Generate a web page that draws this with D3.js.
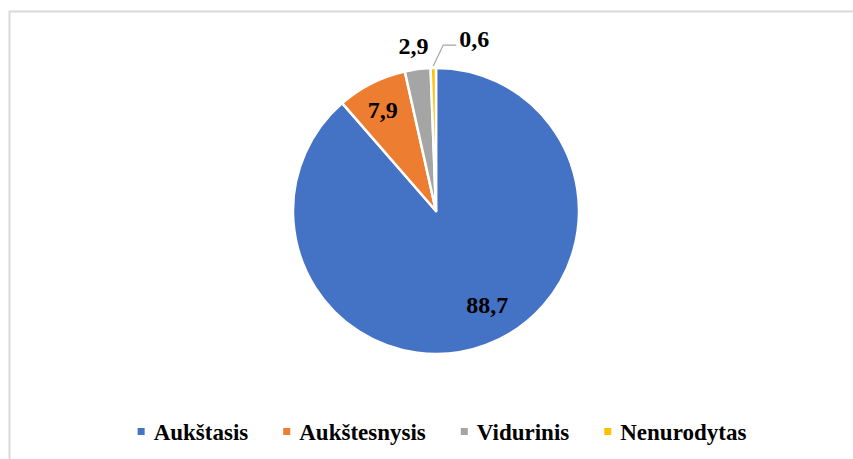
<!DOCTYPE html>
<html>
<head>
<meta charset="utf-8">
<script src="https://cdn.jsdelivr.net/npm/d3@7"></script>
<style>
  body { margin: 0; background: #fff; }
  text { font-family: "Liberation Serif", "Times New Roman", serif; font-weight: bold; fill: #000; }
</style>
</head>
<body>
<svg id="chart" width="853" height="459"></svg>
<script>
// data
const categories = ["Aukštasis", "Aukštesnysis", "Vidurinis", "Nenurodytas"];
const values = [88.7, 7.9, 2.9, 0.6];
const labels = ["88,7", "7,9", "2,9", "0,6"];
const colors = ["#4472C4", "#ED7D31", "#A5A5A5", "#FFC000"];

const width = 853, height = 459;
const cx = 436, cy = 211, radius = 143;

const svg = d3.select("#chart");

// chart frame (cut at right and bottom like the original)
svg.append("rect")
    .attr("x", 9.5).attr("y", 11.5)
    .attr("width", 900).attr("height", 500)
    .attr("fill", "none")
    .attr("stroke", "#d9d9d9")
    .attr("stroke-width", 2);

const pie = d3.pie().sort(null).value(d => d);
const arcs = pie(values);
const arc = d3.arc().innerRadius(0).outerRadius(radius);

const g = svg.append("g").attr("transform", `translate(${cx},${cy})`);

g.selectAll("path.slice")
    .data(arcs)
    .join("path")
    .attr("class", "slice")
    .attr("d", arc)
    .attr("fill", (d, i) => colors[i])
    .attr("stroke", "#fff")
    .attr("stroke-width", 2.5)
    .attr("stroke-linejoin", "round");

// data labels: radius factor and angle shift (deg) per slice, like Excel's best fit
const labelRadius = [0.75, 0.80, 1.164, 1.0];
const labelShift = [-8, -1, -0.4, 0];
function polar(a, r) {
    return [r * Math.sin(a), -r * Math.cos(a)];
}

arcs.forEach((d, i) => {
    const mid = (d.startAngle + d.endAngle) / 2 + labelShift[i] * Math.PI / 180;
    if (i < 3) {
        const [x, y] = polar(mid, radius * labelRadius[i]);
        g.append("text")
            .attr("x", x).attr("y", y)
            .attr("text-anchor", "middle")
            .attr("dominant-baseline", "central")
            .style("font-size", "24px")
            .text(labels[i]);
    } else {
        // small slice: leader line to outside label
        const [x0, y0] = polar(mid, radius + 2);
        const elbow = [x0 + 10, y0 - 21];
        const end = [elbow[0] + 13, elbow[1]];
        g.append("polyline")
            .attr("points", [[x0, y0], elbow, end].map(p => p.join(",")).join(" "))
            .attr("fill", "none")
            .attr("stroke", "#a5a5a5")
            .attr("stroke-width", 1.2);
        g.append("text")
            .attr("x", end[0] + 3).attr("y", end[1] - 6)
            .attr("text-anchor", "start")
            .attr("dominant-baseline", "central")
            .style("font-size", "24px")
            .text(labels[i]);
    }
});

// legend
const legend = svg.append("g");
const legendY = 440;
const items = legend.selectAll("g.item")
    .data(categories)
    .join("g")
    .attr("class", "item");

items.append("rect")
    .attr("width", 7).attr("height", 7)
    .attr("y", legendY - 12)
    .attr("fill", (d, i) => colors[i]);

items.append("text")
    .attr("x", 16)
    .attr("y", legendY)
    .style("font-size", "23px")
    .text(d => d);

let xPos = 0;
const offsets = [];
items.each(function () {
    offsets.push(xPos);
    const w = d3.select(this).select("text").node().getComputedTextLength();
    xPos += 16 + w + 35;
});
const total = xPos - 35;
const startX = 442 - total / 2;
items.attr("transform", (d, i) => `translate(${startX + offsets[i]},0)`);
</script>
</body>
</html>
